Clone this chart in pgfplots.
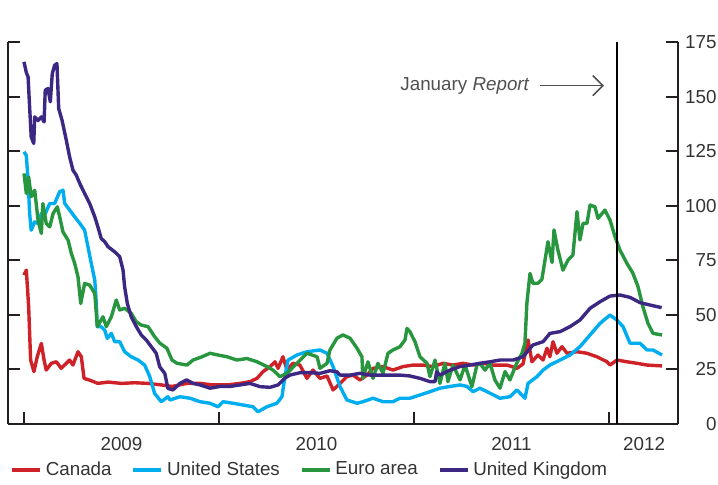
\documentclass[border=0pt]{standalone}
\usepackage{fontspec}
\setmainfont{Liberation Sans}
\usepackage{pgfplots}
\pgfplotsset{compat=1.18}
\usetikzlibrary{arrows.meta}
\definecolor{cadred}{RGB}{206,34,40}
\definecolor{usblue}{RGB}{0,174,239}
\definecolor{eurogreen}{RGB}{40,150,62}
\definecolor{ukpurple}{RGB}{60,40,130}
\definecolor{axisblack}{RGB}{35,31,32}
\definecolor{txt}{RGB}{51,51,51}
\definecolor{annot}{RGB}{80,80,80}
\newcommand{\chartfont}{\fontsize{9.4}{11}\selectfont}

\begin{document}
\begin{tikzpicture}
\begin{axis}[
  at={(0pt,0pt)}, anchor=south west,
  width=335pt, height=191pt, scale only axis,
  xmin=2008.918, xmax=2012.354, ymin=0, ymax=175,
  axis x line=bottom, axis y line=box,
  axis line style={-, line width=1pt, draw=axisblack},
  tick align=inside,
  major tick length=0pt, minor tick length=6pt,
  tick style={line width=1pt, draw=axisblack},
  xtick={2009.5,2010.5,2011.5,2012.18},
  xticklabels={2009,2010,2011,2012},
  minor xtick={2009,2010,2011,2012},
  ytick={0,25,...,175},
  minor ytick={0,25,...,175},
  yticklabel pos=right,
  /pgf/number format/assume math mode=true,
  tick label style={font=\chartfont, text=txt},
  yticklabel style={anchor=east, inner xsep=0pt, xshift=19.5pt},
  xticklabel style={yshift=-3pt},
  legend columns=4,
  legend style={draw=none, fill=none, at={(0,0)}, anchor=west,
    xshift=1pt, yshift=-23pt, inner sep=0pt, font=\chartfont, text=txt,
    /tikz/every even column/.append style={column sep=8pt}},
  legend image code/.code={\draw[#1] (0pt,0pt) -- (14pt,0pt);},
  every axis plot/.append style={line width=1.7pt, line join=round},
]
\addplot[cadred] coordinates {
(2009.000,68.2) (2009.012,70.5) (2009.024,53.7) (2009.034,29.3) (2009.051,24)
(2009.068,30.8) (2009.089,36.9) (2009.103,29.3) (2009.114,24.7) (2009.140,27.8)
(2009.166,28.5) (2009.191,25.5) (2009.217,27.8) (2009.234,29.3) (2009.251,27)
(2009.277,33.1) (2009.294,30.8) (2009.308,20.9) (2009.337,20.1) (2009.379,18.6)
(2009.431,19.2) (2009.499,18.6) (2009.568,18.9) (2009.636,18.6) (2009.704,17.9)
(2009.759,17.2) (2009.836,18.6) (2009.903,18.6) (2009.969,17.9) (2010.041,17.9)
(2010.108,18.6) (2010.159,19.4) (2010.195,20.9) (2010.226,24) (2010.262,26.3)
(2010.287,28.5) (2010.303,25.5) (2010.328,30.8) (2010.349,24.7) (2010.379,27.8)
(2010.415,27) (2010.451,20.9) (2010.482,24.7) (2010.518,20.9) (2010.554,22)
(2010.585,15.6) (2010.621,18.6) (2010.656,21.7) (2010.687,22.4) (2010.723,20.2)
(2010.759,22.4) (2010.790,25.5) (2010.841,26.3) (2010.892,24.7) (2010.944,26.3)
(2010.995,27) (2011.046,27) (2011.097,26.3) (2011.149,27.8) (2011.200,27)
(2011.251,27.8) (2011.303,27) (2011.354,27.8) (2011.405,27) (2011.477,27)
(2011.528,25.5) (2011.559,27.5) (2011.585,38.5) (2011.605,28.5) (2011.636,31.6)
(2011.662,29.3) (2011.682,34.7) (2011.697,30.8) (2011.713,37.7) (2011.733,32.4)
(2011.759,35.4) (2011.785,32.4) (2011.836,33.1) (2011.887,32.4) (2011.938,30.8)
(2011.990,28.5) (2012.005,27) (2012.041,29.3) (2012.092,28.5) (2012.144,27.8)
(2012.195,27) (2012.272,26.6)
};
\addlegendentry{Canada}
\addplot[usblue] coordinates {
(2009.000,124.7) (2009.012,123) (2009.021,111.7) (2009.029,96.4) (2009.037,88.8)
(2009.055,92.6) (2009.072,91.9) (2009.089,96.4) (2009.106,95.7) (2009.132,101)
(2009.157,101) (2009.183,106.4) (2009.200,107.1) (2009.209,101) (2009.234,98)
(2009.260,94.9) (2009.286,91.9) (2009.311,88.8) (2009.328,81.2) (2009.345,73.6)
(2009.363,65.9) (2009.371,55.2) (2009.376,44.6) (2009.396,44.6) (2009.414,43)
(2009.427,39.2) (2009.448,41.5) (2009.465,37.7) (2009.491,37.7) (2009.516,33.1)
(2009.550,30.8) (2009.585,29.3) (2009.619,27) (2009.645,21.7) (2009.670,14)
(2009.704,10.2) (2009.738,12.5) (2009.749,11) (2009.800,12.5) (2009.851,11.8)
(2009.903,10.2) (2009.954,9.5) (2009.995,7.9) (2010.021,10.2) (2010.072,9.5)
(2010.123,8.7) (2010.174,7.9) (2010.200,5.6) (2010.246,7.9) (2010.297,9.5)
(2010.323,12.5) (2010.338,21.7) (2010.354,29.3) (2010.400,31.6) (2010.451,33.1)
(2010.518,33.9) (2010.554,32.4) (2010.585,26.3) (2010.621,17.1) (2010.656,11)
(2010.708,9.5) (2010.738,10.2) (2010.790,11.8) (2010.841,10.2) (2010.892,10.2)
(2010.928,11.8) (2010.979,11.8) (2011.031,13.3) (2011.082,14.8) (2011.133,16.4)
(2011.185,17.2) (2011.236,17.9) (2011.272,17.2) (2011.303,14.8) (2011.338,16.4)
(2011.390,14.1) (2011.441,11.8) (2011.492,12.5) (2011.528,15.6) (2011.569,11.8)
(2011.585,18.6) (2011.631,21.7) (2011.662,24.7) (2011.697,27) (2011.749,29.3)
(2011.800,31.6) (2011.851,35.4) (2011.903,40.8) (2011.954,46.1) (2012.005,49.9)
(2012.041,47.6) (2012.072,44.6) (2012.108,37) (2012.159,37) (2012.195,33.9)
(2012.226,33.9) (2012.272,31.6)
};
\addlegendentry{United States}
\addplot[eurogreen] coordinates {
(2009.000,114.8) (2009.012,105.6) (2009.024,113.2) (2009.037,104.1) (2009.055,107.1)
(2009.072,93.4) (2009.089,87.3) (2009.097,101) (2009.114,91.9) (2009.132,90.3)
(2009.149,96.4) (2009.171,99.5) (2009.183,94.9) (2009.200,88) (2009.226,84.2)
(2009.243,78.1) (2009.260,73.6) (2009.277,67.4) (2009.291,55.2) (2009.311,64.4)
(2009.337,63.6) (2009.363,59.8) (2009.376,44.6) (2009.405,49.1) (2009.422,44.6)
(2009.448,49.1) (2009.473,56.8) (2009.491,52.2) (2009.516,53) (2009.550,50.7)
(2009.576,46.8) (2009.602,45.3) (2009.636,44.6) (2009.670,40) (2009.697,37)
(2009.733,34.7) (2009.759,29.3) (2009.785,27.8) (2009.836,27) (2009.867,29.3)
(2009.913,30.8) (2009.954,32.4) (2009.995,31.6) (2010.041,30.8) (2010.092,29.3)
(2010.144,30) (2010.195,28.5) (2010.246,26.3) (2010.277,24.7) (2010.313,21.7)
(2010.349,23.2) (2010.400,27.8) (2010.451,32.4) (2010.503,30.8) (2010.518,25.5)
(2010.554,27.8) (2010.569,33.9) (2010.605,39.3) (2010.636,40.8) (2010.672,39.3)
(2010.708,34.7) (2010.733,30.8) (2010.738,20.9) (2010.764,28.5) (2010.790,20.9)
(2010.815,27.8) (2010.841,23.2) (2010.867,32.4) (2010.892,33.9) (2010.928,35.4)
(2010.954,38.5) (2010.964,43.8) (2010.979,42.3) (2011.005,37.7) (2011.031,30.8)
(2011.067,27.8) (2011.082,21.7) (2011.108,29.3) (2011.133,18.6) (2011.159,27.8)
(2011.174,19.4) (2011.200,27) (2011.236,20.2) (2011.262,27) (2011.297,17.1)
(2011.323,27) (2011.338,27.8) (2011.364,24.7) (2011.390,27.8) (2011.415,20.2)
(2011.441,16.4) (2011.467,24) (2011.492,20.2) (2011.528,28.1) (2011.554,32.4)
(2011.569,37) (2011.579,55.3) (2011.595,69) (2011.610,64.4) (2011.636,64.5)
(2011.656,66.3) (2011.672,75.1) (2011.687,83.5) (2011.708,74) (2011.718,88.9)
(2011.738,79.7) (2011.764,70.5) (2011.790,75.1) (2011.815,77.4) (2011.836,97.3)
(2011.851,84.3) (2011.867,91.9) (2011.887,91.9) (2011.903,100.3) (2011.928,99.5)
(2011.944,94.2) (2011.979,98) (2012.005,93.5) (2012.031,85.8) (2012.056,79.7)
(2012.092,73.6) (2012.123,69) (2012.149,62.9) (2012.174,53.7) (2012.200,46.1)
(2012.226,41.5) (2012.272,40.8)
};
\addlegendentry{Euro area}
\addplot[ukpurple] coordinates {
(2009.000,165.9) (2009.012,161) (2009.021,159) (2009.029,145) (2009.037,131.5)
(2009.050,128.5) (2009.055,140.7) (2009.072,139) (2009.089,140.7) (2009.103,138.4)
(2009.109,152.9) (2009.123,153.7) (2009.135,147.6) (2009.145,160.5) (2009.157,164.3)
(2009.169,165.1) (2009.178,144.5) (2009.195,139.2) (2009.217,130) (2009.234,122.4)
(2009.251,116.3) (2009.268,114) (2009.286,110.2) (2009.311,105.6) (2009.337,101)
(2009.363,94.9) (2009.379,90.3) (2009.396,85) (2009.414,83.5) (2009.431,81.2)
(2009.465,78.9) (2009.491,76.6) (2009.508,70.5) (2009.516,62.9) (2009.530,55.2)
(2009.550,49.1) (2009.576,44.6) (2009.602,40.7) (2009.627,38.5) (2009.653,35.4)
(2009.678,32.4) (2009.696,26.2) (2009.722,23.2) (2009.738,16.3) (2009.764,15.6)
(2009.800,18.6) (2009.834,20.2) (2009.867,18.6) (2009.903,17.9) (2009.954,16.4)
(2010.005,17.2) (2010.056,17.2) (2010.108,17.9) (2010.159,18.6) (2010.210,17.1)
(2010.262,16.8) (2010.303,17.9) (2010.338,21) (2010.364,22.4) (2010.415,23.5)
(2010.467,23.5) (2010.518,23.2) (2010.569,24.4) (2010.605,23.9) (2010.621,22.4)
(2010.672,22.4) (2010.723,23.2) (2010.774,22.4) (2010.826,22.4) (2010.877,22.4)
(2010.928,22.4) (2010.979,22) (2011.031,20.9) (2011.082,19.4) (2011.108,19.4)
(2011.116,23.9) (2011.133,22.4) (2011.185,24.7) (2011.236,26.3) (2011.287,27)
(2011.338,27.8) (2011.390,28.5) (2011.441,29.3) (2011.508,29.3) (2011.559,30.8)
(2011.610,36.2) (2011.662,37.7) (2011.697,41.5) (2011.749,42.3) (2011.800,44.6)
(2011.851,47.6) (2011.903,53) (2011.954,56) (2012.005,58.6) (2012.056,59.1)
(2012.108,58) (2012.159,55.6) (2012.210,54.5) (2012.270,53.3)
};
\addlegendentry{United Kingdom}
\draw[line width=1.2pt, black] (axis cs:2012.041,0) -- (axis cs:2012.041,175);
\node[anchor=east, inner sep=0pt, font=\chartfont, text=annot] at (axis cs:2011.595,155) {January \textit{Report}};
\draw[-{Straight Barb[length=5pt,width=10pt]}, line width=0.8pt, annot] (axis cs:2011.646,155) -- (axis cs:2011.974,155);
\node[anchor=base east, inner sep=0pt, font=\chartfont, text=txt] at ([xshift=17pt, yshift=9pt]rel axis cs:1,1) {Basis points};
\end{axis}
\pgfresetboundingbox
\path[use as bounding box] (-4pt,-30.5pt) rectangle (355pt,212pt);
\end{tikzpicture}
\end{document}
